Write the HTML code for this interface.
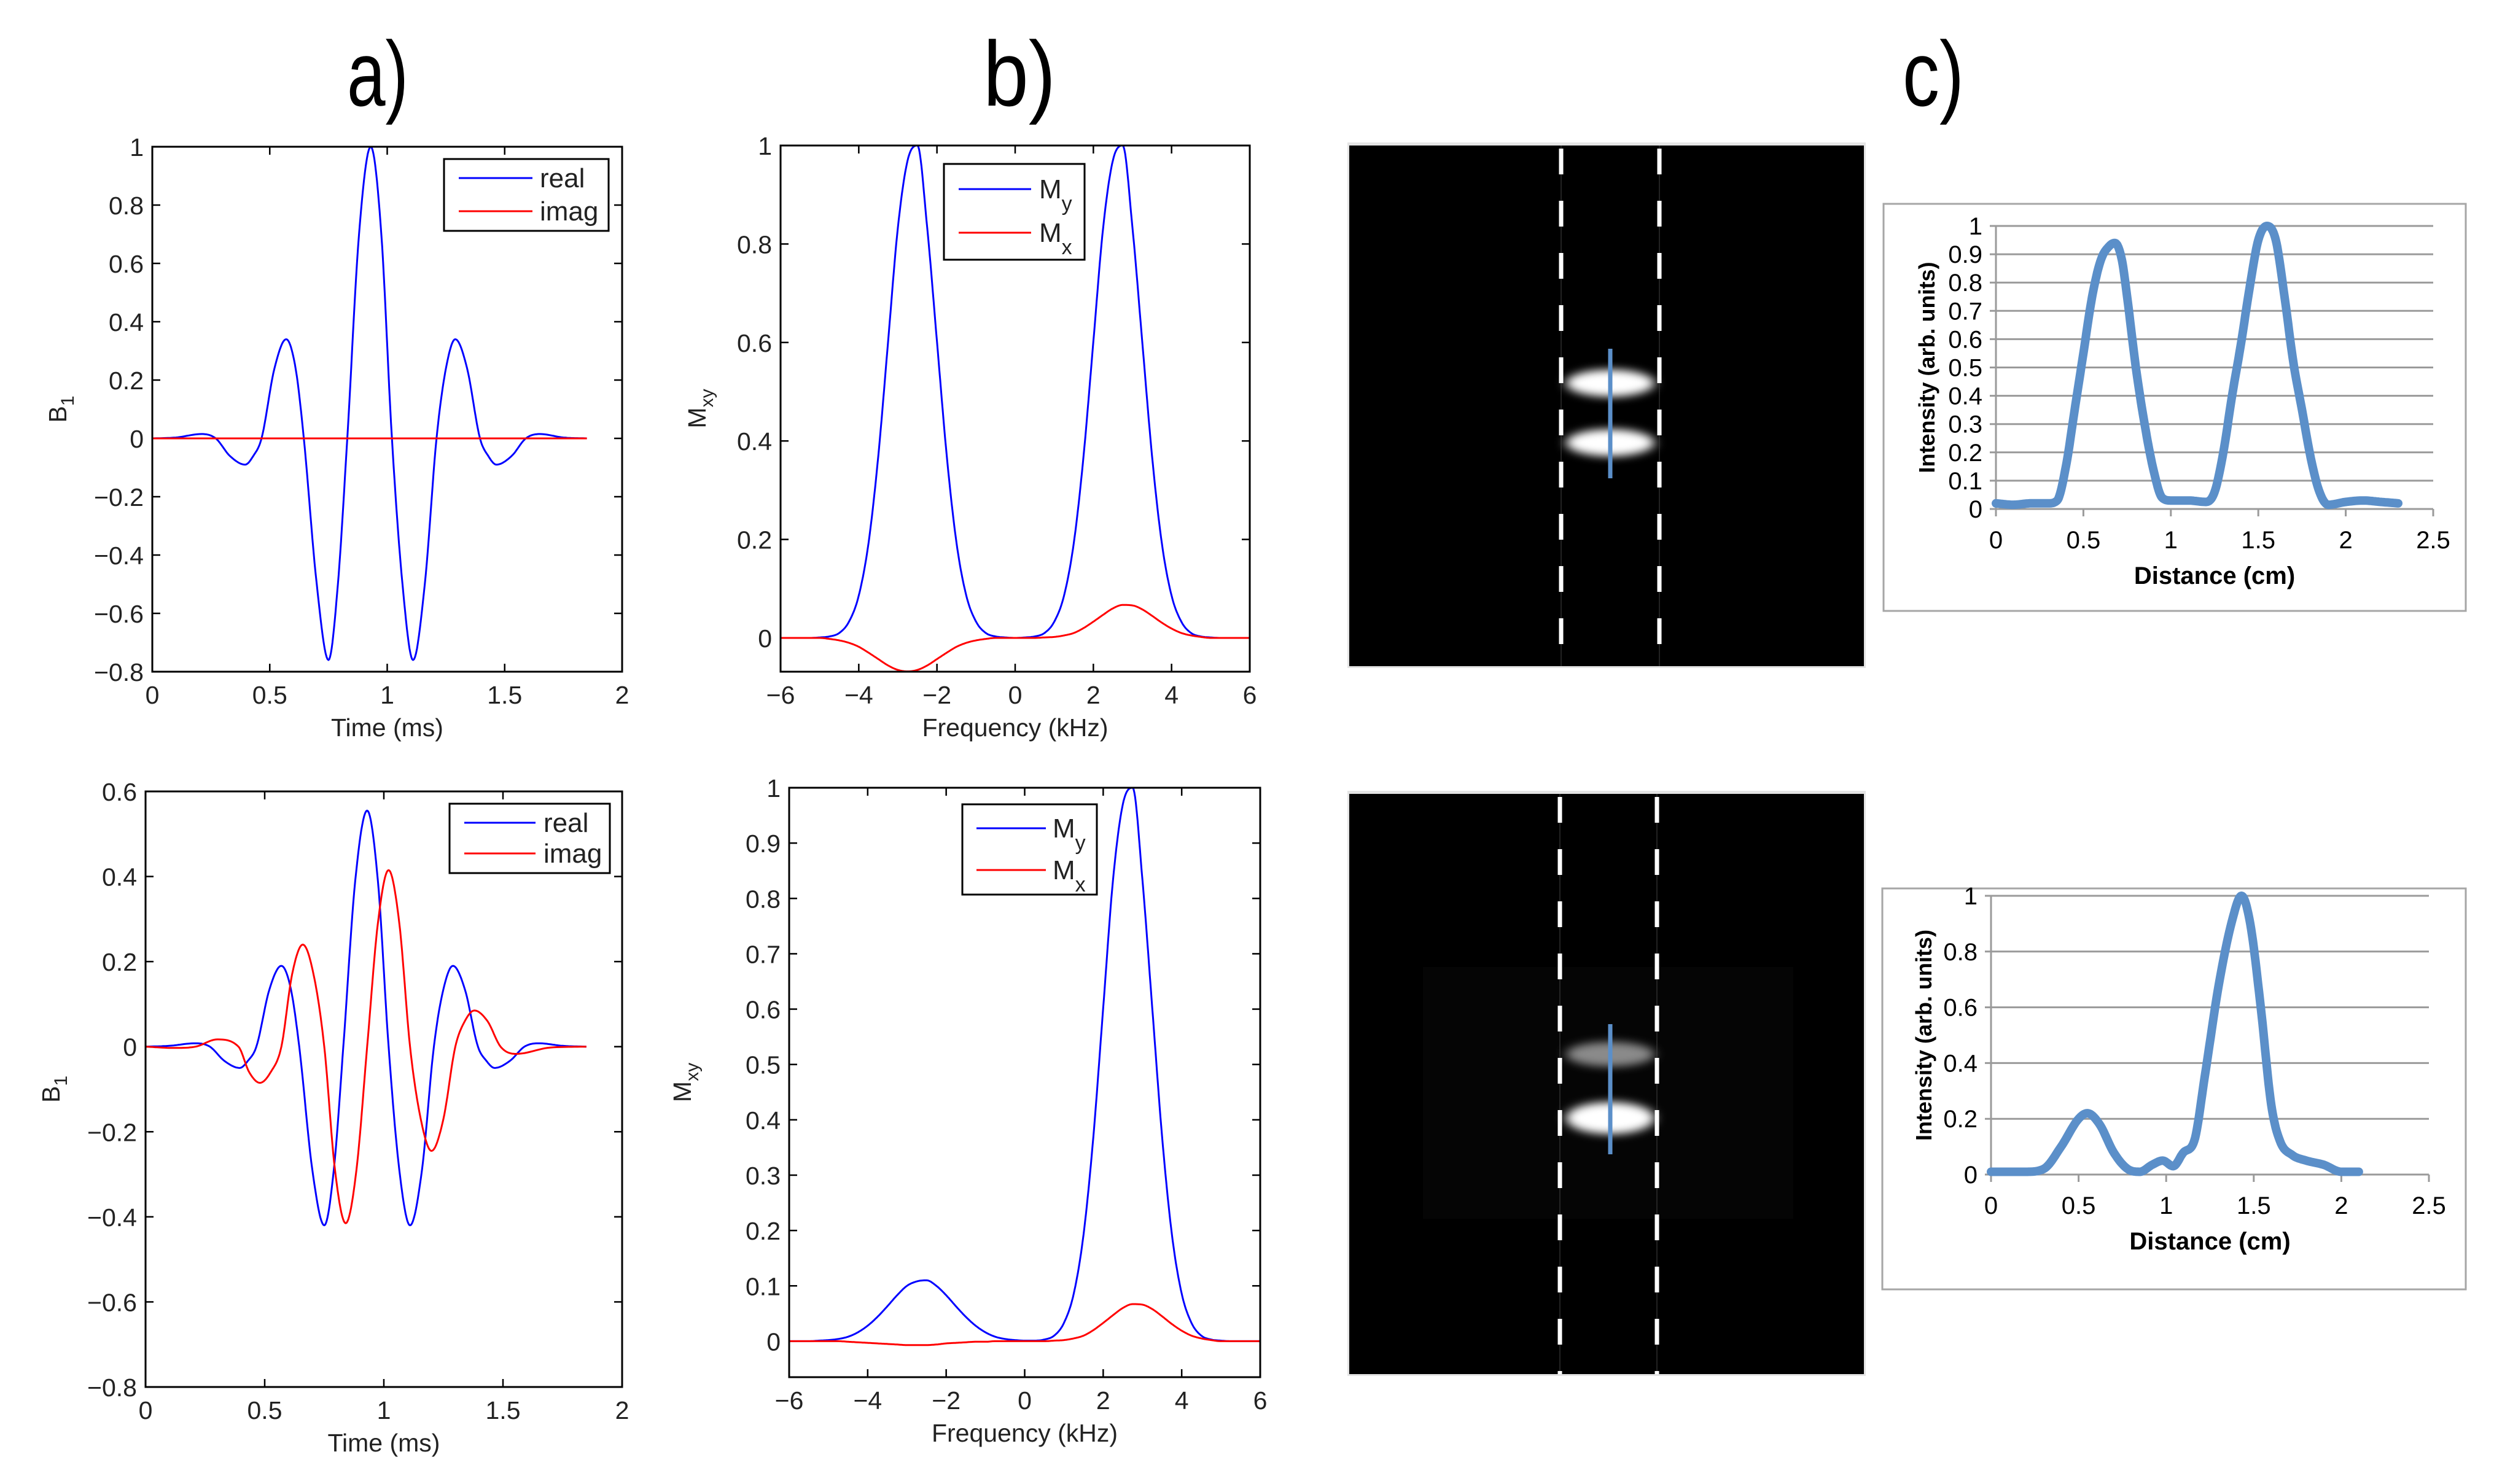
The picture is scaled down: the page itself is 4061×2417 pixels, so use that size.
<!DOCTYPE html>
<html><head><meta charset="utf-8"><style>
html,body{margin:0;padding:0;background:#fff;}
svg{display:block;}
text{font-family:"Liberation Sans",sans-serif;}
</style></head><body>
<svg id="fig" width="4061" height="2417" viewBox="0 0 4061 2417" xmlns="http://www.w3.org/2000/svg">
<defs>
<filter id="blur1" x="-50%" y="-100%" width="200%" height="300%"><feGaussianBlur stdDeviation="9 7"/></filter>
</defs>
<g>
<text x="615" y="172" font-size="150" text-anchor="middle" textLength="100" lengthAdjust="spacingAndGlyphs">a)</text>
<text x="1660" y="172" font-size="150" text-anchor="middle" textLength="118" lengthAdjust="spacingAndGlyphs">b)</text>
<text x="3148" y="172" font-size="150" text-anchor="middle" textLength="100" lengthAdjust="spacingAndGlyphs">c)</text>
</g>
<g id="root"></g>
</svg>
<script>
// ---------- data ----------
const aTopT = [0,0.1,0.21,0.27,0.33,0.395,0.43,0.465,0.52,0.57,0.61,0.645,0.70,0.75,0.79,0.83,0.88,0.93,0.975,1.02,1.065,1.11,1.16,1.21,1.25,1.29,1.34,1.395,1.43,1.465,1.53,1.59,1.65,1.75,1.85];
const aTopReal = [0,0.003,0.015,0,-0.06,-0.09,-0.06,0,0.24,0.34,0.24,0,-0.5,-0.76,-0.5,0,0.7,1.0,0.7,0,-0.5,-0.76,-0.5,0,0.24,0.34,0.24,0,-0.06,-0.09,-0.06,0,0.015,0.003,0];
const aTopImagT = [0,1.85];
const aTopImag = [0,0];
const aBotRealT = aTopT;
const aBotReal = [0,0.002,0.008,0,-0.033,-0.05,-0.033,0,0.135,0.19,0.135,0,-0.29,-0.42,-0.29,0,0.39,0.555,0.39,0,-0.29,-0.42,-0.29,0,0.135,0.19,0.135,0,-0.033,-0.05,-0.033,0,0.008,0.002,0];
const aBotImagT = [0,0.12,0.21,0.30,0.39,0.435,0.48,0.525,0.57,0.615,0.66,0.705,0.75,0.795,0.84,0.885,0.93,0.975,1.02,1.065,1.11,1.155,1.20,1.25,1.30,1.34,1.38,1.435,1.49,1.555,1.7,1.85];
const aBotImag = [0,-0.003,0,0.017,0,-0.06,-0.085,-0.06,0,0.17,0.24,0.17,0,-0.29,-0.415,-0.29,0,0.29,0.415,0.29,0,-0.17,-0.245,-0.17,0,0.06,0.085,0.06,0,-0.017,-0.002,0];
const bFreq = [-6,-5.75,-5.5,-5.25,-5,-4.75,-4.5,-4.25,-4,-3.75,-3.5,-3.25,-3,-2.75,-2.5,-2.25,-2,-1.75,-1.5,-1.25,-1,-0.75,-0.5,-0.25,0,0.25,0.5,0.75,1,1.25,1.5,1.75,2,2.25,2.5,2.75,3,3.25,3.5,3.75,4,4.25,4.5,4.75,5,5.25,5.5,5.75,6];
const bTopMy = [0,0,0,0,0.001,0.003,0.010,0.033,0.086,0.193,0.370,0.602,0.833,0.97,1.0,0.833,0.602,0.370,0.193,0.086,0.033,0.010,0.003,0.001,0,0.001,0.003,0.010,0.033,0.086,0.193,0.370,0.602,0.833,0.97,1.0,0.833,0.602,0.370,0.193,0.086,0.033,0.010,0.003,0.001,0,0,0,0];
const bTopMx = [0,0,0,0,0,-0.002,-0.005,-0.010,-0.018,-0.030,-0.043,-0.056,-0.065,-0.068,-0.065,-0.056,-0.043,-0.030,-0.018,-0.010,-0.005,-0.002,0,0,0,0,0,0.001,0.002,0.005,0.010,0.020,0.033,0.047,0.060,0.067,0.066,0.058,0.045,0.031,0.019,0.010,0.005,0.002,0,0,0,0,0];
const bBotMy = [0,0,0,0.001,0.002,0.004,0.008,0.016,0.028,0.044,0.063,0.083,0.100,0.108,0.110,0.100,0.083,0.063,0.044,0.028,0.016,0.008,0.004,0.002,0.001,0.001,0.003,0.010,0.033,0.086,0.193,0.370,0.602,0.833,0.97,1.0,0.833,0.602,0.370,0.193,0.086,0.033,0.010,0.003,0.001,0,0,0,0];
const bBotMx = [0,0,0,0,0,0,-0.001,-0.002,-0.003,-0.004,-0.005,-0.006,-0.007,-0.007,-0.007,-0.006,-0.004,-0.003,-0.002,-0.001,-0.001,0,0,0,0,0,0,0.001,0.002,0.005,0.010,0.020,0.033,0.047,0.060,0.067,0.066,0.058,0.045,0.031,0.019,0.010,0.005,0.002,0,0,0,0,0];
const cTopX = [0,0.1,0.2,0.3,0.35,0.4,0.45,0.5,0.55,0.6,0.65,0.68,0.72,0.75,0.8,0.85,0.9,0.95,1.0,1.1,1.2,1.25,1.3,1.35,1.4,1.45,1.5,1.55,1.6,1.65,1.7,1.75,1.8,1.85,1.9,2.0,2.1,2.2,2.3];
const cTopY = [0.02,0.015,0.02,0.02,0.03,0.15,0.35,0.55,0.75,0.88,0.93,0.94,0.88,0.75,0.5,0.3,0.14,0.04,0.03,0.03,0.025,0.06,0.2,0.4,0.58,0.78,0.95,1.0,0.95,0.75,0.52,0.35,0.18,0.06,0.015,0.025,0.03,0.025,0.02];
const cBotX = [0,0.2,0.3,0.4,0.5,0.55,0.62,0.7,0.78,0.85,0.92,0.98,1.04,1.1,1.16,1.22,1.3,1.38,1.43,1.48,1.54,1.6,1.65,1.72,1.8,1.9,2.0,2.1];
const cBotY = [0.01,0.01,0.02,0.1,0.2,0.22,0.18,0.08,0.02,0.01,0.035,0.05,0.03,0.08,0.12,0.35,0.68,0.92,1.0,0.9,0.6,0.25,0.12,0.07,0.05,0.035,0.01,0.01];
const aTicksX = [0,0.5,1,1.5,2];
const aTopTicksY = [-0.8,-0.6,-0.4,-0.2,0,0.2,0.4,0.6,0.8,1];
const aBotTicksY = [-0.8,-0.6,-0.4,-0.2,0,0.2,0.4,0.6];
const bTicksX = [-6,-4,-2,0,2,4,6];
const bTopTicksY = [0,0.2,0.4,0.6,0.8,1];
const bBotTicksY = [0,0.1,0.2,0.3,0.4,0.5,0.6,0.7,0.8,0.9,1];
const cTicksX = [0,0.5,1,1.5,2,2.5];
const cTopTicksY = [0,0.1,0.2,0.3,0.4,0.5,0.6,0.7,0.8,0.9,1];
const cBotTicksY = [0,0.2,0.4,0.6,0.8,1];

// ---------- helpers ----------
const NS = "http://www.w3.org/2000/svg";
const root = document.getElementById('root');
function el(tag, attrs, parent){
  const e = document.createElementNS(NS, tag);
  for (const k in attrs) e.setAttribute(k, attrs[k]);
  (parent||root).appendChild(e);
  return e;
}
function fmt(v){ const s = String(+v.toFixed(2)); return v<0 ? '\u2212'+s.slice(1) : s; }
function lin(d0,d1,r0,r1){ return v => r0 + (v-d0)/(d1-d0)*(r1-r0); }
function monoPath(xs, ys, sx, sy){
  const n = xs.length, m = new Array(n), d = [];
  for (let i=0;i<n-1;i++) d.push((ys[i+1]-ys[i])/(xs[i+1]-xs[i]));
  m[0]=d[0]; m[n-1]=d[n-2];
  for (let i=1;i<n-1;i++){ m[i] = (d[i-1]*d[i]<=0) ? 0 : (d[i-1]+d[i])/2; }
  for (let i=0;i<n-1;i++){
    if (d[i]===0){ m[i]=0; m[i+1]=0; continue; }
    const a=m[i]/d[i], b=m[i+1]/d[i], s=a*a+b*b;
    if (s>9){ const t=3/Math.sqrt(s); m[i]=t*a*d[i]; m[i+1]=t*b*d[i]; }
  }
  let p = 'M'+sx(xs[0]).toFixed(1)+','+sy(ys[0]).toFixed(1);
  for (let i=0;i<n-1;i++){
    const h = xs[i+1]-xs[i];
    for (let k=1;k<=12;k++){
      const t=k/12, h00=2*t*t*t-3*t*t+1, h10=t*t*t-2*t*t+t, h01=-2*t*t*t+3*t*t, h11=t*t*t-t*t;
      const x = xs[i]+t*h, y = h00*ys[i]+h10*h*m[i]+h01*ys[i+1]+h11*h*m[i+1];
      p += 'L'+sx(x).toFixed(1)+','+sy(y).toFixed(1);
    }
  }
  return p;
}

function matlabAxes(name, box, xd, yd, xticks, yticks, xlabel, ylabelMain, ylabelSub){
  const g = el('g', {});
  
  
  const sx = lin(xd[0],xd[1],box.l,box.r), sy = lin(yd[0],yd[1],box.b,box.t);
  const tl = 13;
  xticks.forEach(v=>{
    const x = sx(v);
    el('line',{x1:x,y1:box.b,x2:x,y2:box.b-tl,stroke:'#000','stroke-width':2.5},g);
    el('line',{x1:x,y1:box.t,x2:x,y2:box.t+tl,stroke:'#000','stroke-width':2.5},g);
    const t = el('text',{x:x,y:box.b+52,'font-size':41,'text-anchor':'middle',fill:'#222'},g);
    
    
    t.textContent = fmt(v);
  });
  yticks.forEach(v=>{
    const y = sy(v);
    el('line',{x1:box.l,y1:y,x2:box.l+tl,y2:y,stroke:'#000','stroke-width':2.5},g);
    el('line',{x1:box.r,y1:y,x2:box.r-tl,y2:y,stroke:'#000','stroke-width':2.5},g);
    const t = el('text',{x:box.l-14,y:y+15,'font-size':41,'text-anchor':'end',fill:'#222'},g);
    
    
    t.textContent = fmt(v);
  });
  const xl = el('text',{x:(box.l+box.r)/2,y:box.b+105,'font-size':41,'text-anchor':'middle',fill:'#222'},g);
  
  
  xl.textContent = xlabel;
  const cy = (box.t+box.b)/2, cx = box.l - (box.ylx||140);
  const yl = el('text',{x:cx,y:cy,'font-size':41,'text-anchor':'middle',fill:'#222',transform:'rotate(-90 '+cx+' '+cy+')'},g);
  
  
  yl.textContent = ylabelMain;
  const sub = el('tspan',{'font-size':30,dy:12},yl);
  sub.textContent = ylabelSub;
  return {g, sx, sy, box};
}
function frame(ax){
  const b = ax.box;
  const r = el('rect',{x:b.l,y:b.t,width:b.r-b.l,height:b.b-b.t,fill:'none',stroke:'#000','stroke-width':3},ax.g);
  
  
}
function series(ax, xs, ys, color, name){
  const p = el('path',{d:monoPath(xs,ys,ax.sx,ax.sy),fill:'none',stroke:color,'stroke-width':3,'stroke-linejoin':'round'},ax.g);
  
  
}
function legend(ax, L, entries){
  const g = el('g',{},ax.g);
  
  
  el('rect',{x:L.x,y:L.y,width:L.w,height:L.h,fill:'#fff',stroke:'#000','stroke-width':3},g);
  entries.forEach((e,i)=>{
    const y = L.ly[i];
    const ln = el('line',{x1:L.lx0,x2:L.lx1,y1:y,y2:y,stroke:e.c,'stroke-width':3},g);
    
    
    const t = el('text',{x:L.tx,y:y+15,'font-size':44,fill:'#222'},g);
    
    
    t.textContent = e.t;
    if (e.sub){ const s = el('tspan',{'font-size':34,dy:20},t); s.textContent = e.sub; }
  });
}

let ax = matlabAxes('panel-a-top', {l:248,r:1013,t:239,b:1094,ylx:140}, [0,2], [-0.8,1], aTicksX, aTopTicksY, 'Time (ms)', 'B', '1');
series(ax, aTopT, aTopReal, '#0000ff', 'real-series');
series(ax, aTopImagT, aTopImag, '#ff0000', 'imag-series');
frame(ax);
legend(ax, {x:723,y:259,w:268,h:117,lx0:747,lx1:867,ly:[290,344],tx:879}, [{id:'real',t:'real',c:'#0000ff'},{id:'imag',t:'imag',c:'#ff0000'}]);

ax = matlabAxes('panel-a-bottom', {l:237,r:1013,t:1289,b:2259,ylx:140}, [0,2], [-0.8,0.6], aTicksX, aBotTicksY, 'Time (ms)', 'B', '1');
series(ax, aBotRealT, aBotReal, '#0000ff', 'real-series');
series(ax, aBotImagT, aBotImag, '#ff0000', 'imag-series');
frame(ax);
legend(ax, {x:732,y:1309,w:261,h:113,lx0:756,lx1:872,ly:[1340,1390],tx:885}, [{id:'real',t:'real',c:'#0000ff'},{id:'imag',t:'imag',c:'#ff0000'}]);

ax = matlabAxes('panel-b-top', {l:1271,r:2035,t:237,b:1094,ylx:122}, [-6,6], [-0.0686,1], bTicksX, bTopTicksY, 'Frequency (kHz)', 'M', 'xy');
series(ax, bFreq, bTopMy, '#0000ff', 'my-series');
series(ax, bFreq, bTopMx, '#ff0000', 'mx-series');
frame(ax);
legend(ax, {x:1537,y:267,w:229,h:156,lx0:1561,lx1:1679,ly:[308,379],tx:1692}, [{id:'my',t:'M',sub:'y',c:'#0000ff'},{id:'mx',t:'M',sub:'x',c:'#ff0000'}]);

ax = matlabAxes('panel-b-bottom', {l:1285,r:2052,t:1283,b:2243,ylx:160}, [-6,6], [-0.065,1], bTicksX, bBotTicksY, 'Frequency (kHz)', 'M', 'xy');
series(ax, bFreq, bBotMy, '#0000ff', 'my-series');
series(ax, bFreq, bBotMx, '#ff0000', 'mx-series');
frame(ax);
legend(ax, {x:1567,y:1310,w:219,h:147,lx0:1590,lx1:1703,ly:[1349,1417],tx:1714}, [{id:'my',t:'M',sub:'y',c:'#0000ff'},{id:'mx',t:'M',sub:'x',c:'#ff0000'}]);

function mriImage(name, I){
  const g = el('g',{});
  
  
  el('rect',{x:I.x-3,y:I.y-5,width:I.w+6,height:I.h+8,fill:'#e4e4e4'},g);
  el('rect',{x:I.x,y:I.y,width:I.w,height:I.h,fill:'#000'},g);
  if (I.faint) el('rect',{x:I.faint[0],y:I.faint[1],width:I.faint[2],height:I.faint[3],fill:'#050505'},g);
  I.blobs.forEach(b=>{
    const e = el('ellipse',{cx:I.cx,cy:b.y,rx:72,ry:b.ry,fill:b.c,filter:'url(#blur1)'},g);
    
    
  });
  I.dash.forEach(x=>{
    el('line',{x1:x,y1:I.y,x2:x,y2:I.y+I.h,stroke:'#444','stroke-width':1},g);
    const d = el('line',{x1:x,y1:I.y+5,x2:x,y2:I.y+I.h,stroke:'#fff','stroke-width':7,'stroke-dasharray':'42 43'},g);
    
    
  });
  const p = el('line',{x1:I.cx,y1:I.py[0],x2:I.cx,y2:I.py[1],stroke:'#5b8fc9','stroke-width':7},g);
  
  
}
mriImage('mri-image-top', {x:2197,y:237,w:838,h:848,cx:2622,dash:[2542,2702],py:[568,779],blobs:[{y:624,ry:22,c:'#fff'},{y:721,ry:22,c:'#fff'}]});
mriImage('mri-image-bottom', {x:2197,y:1293,w:838,h:945,cx:2622,dash:[2540,2698],py:[1668,1880],faint:[2317,1575,603,410],blobs:[{y:1717,ry:20,c:'#8a8a8a'},{y:1821,ry:26,c:'#fff'}]});

function excelChart(name, B, P, xs, ys, yticks){
  const g = el('g',{});
  
  
  el('rect',{x:B.l,y:B.t,width:B.r-B.l,height:B.b-B.t,fill:'#fff',stroke:'#a6a6a6','stroke-width':3},g);
  const sx = lin(0,2.5,P.l,P.r), sy = lin(0,1,P.b,P.t);
  yticks.forEach(v=>{
    const y = sy(v);
    const gl = el('line',{x1:P.l-10,x2:P.r,y1:y,y2:y,stroke:'#9a9a9a','stroke-width':3},g);
    
    
    const t = el('text',{x:P.l-22,y:y+14,'font-size':40,'text-anchor':'end',fill:'#000',style:'font-family:"Liberation Sans Narrow","Liberation Sans",sans-serif'},g);
    
    
    t.textContent = String(v);
  });
  el('line',{x1:P.l,x2:P.l,y1:P.t,y2:P.b,stroke:'#9a9a9a','stroke-width':3},g);
  cTicksX.forEach(v=>{
    const x = sx(v);
    el('line',{x1:x,x2:x,y1:P.b,y2:P.b+12,stroke:'#9a9a9a','stroke-width':3},g);
    const t = el('text',{x:x,y:P.b+64,'font-size':40,'text-anchor':'middle',fill:'#000',style:'font-family:"Liberation Sans Narrow","Liberation Sans",sans-serif'},g);
    
    
    t.textContent = String(v);
  });
  const xt = el('text',{x:(P.l+P.r)/2,y:P.b+122,'font-size':40,'font-weight':'bold','text-anchor':'middle',fill:'#000',style:'font-family:"Liberation Sans Narrow","Liberation Sans",sans-serif'},g);
  
  
  xt.textContent = 'Distance (cm)';
  const cx = B.ytx, cy = (P.t+P.b)/2;
  const yt = el('text',{x:cx,y:cy,'font-size':36,'font-weight':'bold','text-anchor':'middle',fill:'#000',transform:'rotate(-90 '+cx+' '+cy+')'},g);
  
  
  yt.textContent = 'Intensity (arb. units)';
  const p = el('path',{d:monoPath(xs,ys,sx,sy),fill:'none',stroke:'#5b8fc9','stroke-width':14,'stroke-linejoin':'round','stroke-linecap':'round'},g);
  
  
}
excelChart('profile-chart-top', {l:3067,r:4015,t:332,b:995,ytx:3150}, {l:3250,r:3962,t:368,b:829}, cTopX, cTopY, cTopTicksY);
excelChart('profile-chart-bottom', {l:3065,r:4015,t:1447,b:2100,ytx:3145}, {l:3242,r:3955,t:1459,b:1913}, cBotX, cBotY, cBotTicksY);
</script>
</body></html>
